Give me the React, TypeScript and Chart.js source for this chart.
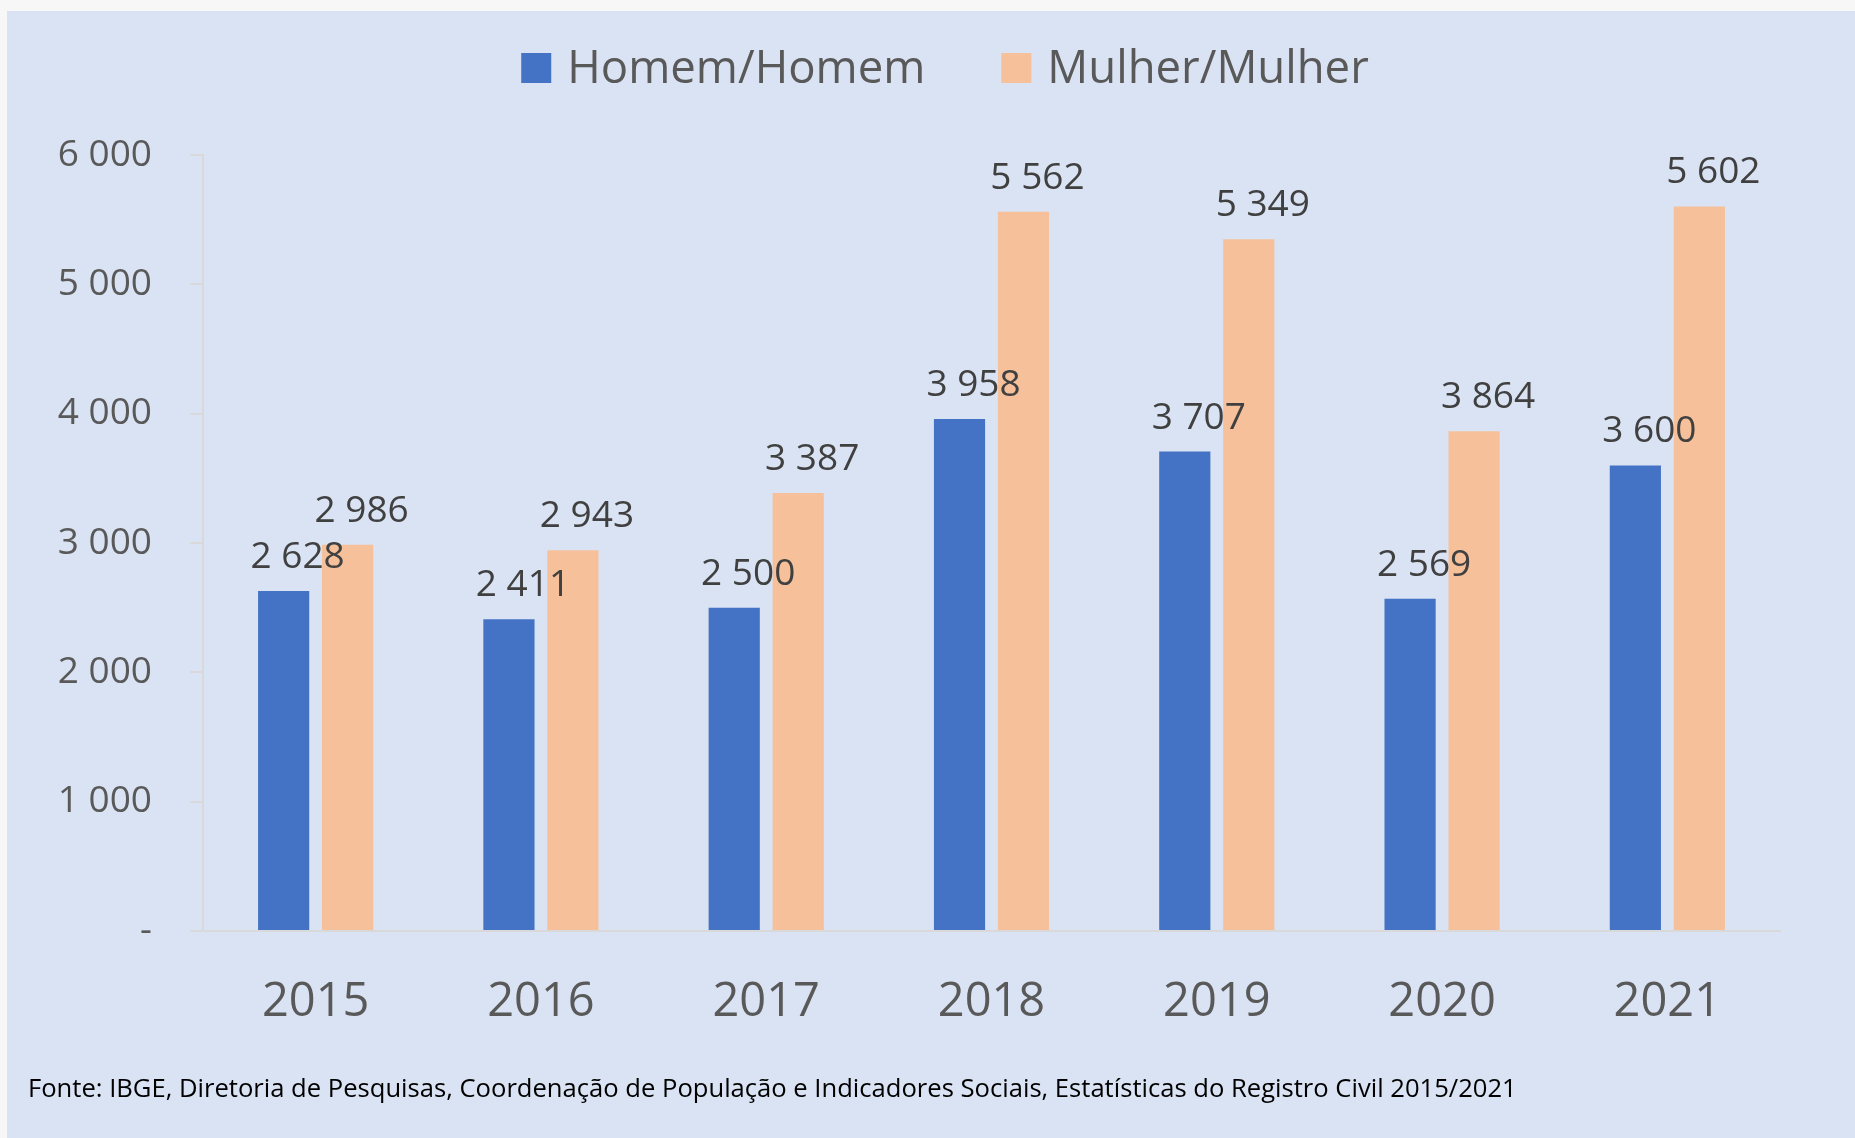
import React, { useEffect, useRef } from 'react';
import { Chart, registerables } from 'chart.js';

Chart.register(...registerables);

const years = ['2015', '2016', '2017', '2018', '2019', '2020', '2021'];
const homemHomem = [2628, 2411, 2500, 3958, 3707, 2569, 3600];
const mulherMulher = [2986, 2943, 3387, 5562, 5349, 3864, 5602];
const seriesNames = ['Homem/Homem', 'Mulher/Mulher'];
const seriesColors = ['#4472c4', '#f6c09a'];
const yMin = 0;
const yMax = 6000;
const yStep = 1000;
const sourceNote =
  'Fonte: IBGE, Diretoria de Pesquisas, Coordenação de População e Indicadores Sociais, Estatísticas do Registro Civil 2015/2021';

const FONT = '"Open Sans", "Noto Sans", sans-serif';

function fmt(v: number): string {
  if (v === 0) return '-';
  return String(v).replace(/\B(?=(\d{3})+(?!\d))/g, ' ');
}

const dataLabelPlugin = {
  id: 'dataLabels',
  afterDatasetsDraw(chart: any) {
    const ctx = chart.ctx;
    ctx.save();
    ctx.font = `37px ${FONT}`;
    ctx.fillStyle = '#404040';
    ctx.textAlign = 'center';
    ctx.textBaseline = 'alphabetic';
    chart.data.datasets.forEach((ds: any, i: number) => {
      const meta = chart.getDatasetMeta(i);
      meta.data.forEach((bar: any, j: number) => {
        ctx.fillText(fmt(ds.data[j]), bar.x + 14, bar.y - 23);
      });
    });
    ctx.restore();
  },
};

const legendPlugin = {
  id: 'customLegend',
  afterDraw(chart: any, _args: any, opts: any) {
    const ctx = chart.ctx;
    ctx.save();
    ctx.font = `45.5px ${FONT}`;
    const box = opts.box;
    const gapText = opts.gapText;
    const gapItem = opts.gapItem;
    const items = chart.data.datasets.map((d: any) => ({
      label: d.label,
      color: d.backgroundColor,
      w: ctx.measureText(d.label).width,
    }));
    let total = 0;
    items.forEach((it: any, i: number) => {
      total += box + gapText + it.w + (i > 0 ? gapItem : 0);
    });
    let x = opts.centerX - total / 2;
    items.forEach((it: any) => {
      ctx.fillStyle = it.color;
      ctx.fillRect(x, opts.baseline - box, box, box);
      ctx.fillStyle = '#595959';
      ctx.textAlign = 'left';
      ctx.textBaseline = 'alphabetic';
      ctx.fillText(it.label, x + box + gapText, opts.baseline);
      x += box + gapText + it.w + gapItem;
    });
    ctx.restore();
  },
};

export default function App() {
  const canvasRef = useRef<HTMLCanvasElement | null>(null);

  useEffect(() => {
    if (!canvasRef.current) return;
    Chart.defaults.font.family = FONT;
    const chart = new Chart(canvasRef.current, {
      type: 'bar',
      data: {
        labels: years,
        datasets: [
          {
            label: seriesNames[0],
            data: homemHomem,
            backgroundColor: seriesColors[0],
            borderWidth: 0,
            barPercentage: 0.8,
            categoryPercentage: 0.568,
          },
          {
            label: seriesNames[1],
            data: mulherMulher,
            backgroundColor: seriesColors[1],
            borderWidth: 0,
            barPercentage: 0.8,
            categoryPercentage: 0.568,
          },
        ],
      },
      options: {
        responsive: false,
        animation: false,
        layout: { padding: { left: 0, right: 75, top: 155, bottom: 0 } },
        plugins: {
          legend: { display: false },
          tooltip: { enabled: false },
          customLegend: { centerX: 945, baseline: 83, box: 30, gapText: 16, gapItem: 76 },
        } as any,
        scales: {
          x: {
            grid: { display: false },
            border: { display: true, color: '#d9d9d9', width: 2 },
            ticks: {
              font: { size: 47, family: FONT },
              color: '#595959',
              padding: 35,
              maxRotation: 0,
            },
            afterFit: (s: any) => {
              s.height = 207;
            },
          },
          y: {
            min: yMin,
            max: yMax,
            ticks: {
              stepSize: yStep,
              font: { size: 37, family: FONT },
              color: '#595959',
              padding: 38,
              callback: (v: any) => fmt(Number(v)),
            },
            grid: {
              drawOnChartArea: false,
              drawTicks: true,
              tickLength: 13,
              tickColor: '#d9d9d9',
              lineWidth: 2,
            },
            border: { display: true, color: '#d9d9d9', width: 2 },
            afterFit: (s: any) => {
              s.width = 203;
            },
          },
        },
      },
      plugins: [dataLabelPlugin, legendPlugin],
    });
    return () => chart.destroy();
  }, []);

  return (
    <div
      style={{
        position: 'fixed',
        left: 0,
        top: 0,
        width: 1855,
        height: 1138,
        background: '#f7f7f7',
        overflow: 'hidden',
      }}
    >
      <div
        style={{
          position: 'absolute',
          left: 7,
          top: 11,
          right: 0,
          bottom: 0,
          background: '#dae3f3',
        }}
      />
      <canvas
        ref={canvasRef}
        width={1855}
        height={1138}
        style={{ position: 'absolute', left: 0, top: 0, width: 1855, height: 1138 }}
      />
      <div
        style={{
          position: 'absolute',
          left: 28,
          top: 1075,
          fontFamily: FONT,
          fontSize: 25.6,
          lineHeight: '25.6px',
          color: '#000',
          whiteSpace: 'nowrap',
        }}
      >
        {sourceNote}
      </div>
    </div>
  );
}
